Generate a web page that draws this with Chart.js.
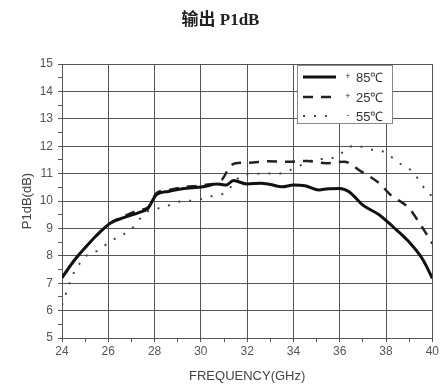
<!DOCTYPE html>
<html>
<head>
<meta charset="utf-8">
<script src="https://cdn.jsdelivr.net/npm/chart.js@4"></script>
<style>
  html, body { margin: 0; padding: 0; background: #fff; }
  #wrap { width: 441px; height: 387px; }
</style>
</head>
<body>
<div id="wrap"><canvas id="myChart" width="441" height="387"></canvas></div>
<script>
// data
const freq85 = [24, 24.5, 24.9, 25.5, 26.1, 26.7, 27.4, 27.7, 28.1, 28.6, 29.2, 30.1, 30.7, 31.1, 31.4, 32.0, 32.6, 33.0, 33.5, 34.0, 34.5, 35.1, 35.5, 36.0, 36.4, 37.0, 37.7, 38.3, 39.0, 39.6, 40.0]
const p85 = [7.2, 7.8, 8.2, 8.75, 9.2, 9.4, 9.6, 9.72, 10.25, 10.35, 10.45, 10.52, 10.62, 10.58, 10.75, 10.62, 10.65, 10.6, 10.52, 10.58, 10.56, 10.4, 10.45, 10.46, 10.34, 9.85, 9.5, 9.06, 8.5, 7.85, 7.18]

const freq25 = [24, 24.5, 24.9, 25.5, 26.1, 26.7, 27.4, 27.7, 28.1, 28.6, 29.2, 30.1, 30.9, 31.25, 31.5, 32.1, 32.9, 33.8, 34.6, 35.4, 36.2, 36.9, 37.7, 38.2, 39.0, 39.5, 40.0]
const p25 = [7.2, 7.8, 8.2, 8.75, 9.2, 9.45, 9.68, 9.75, 10.3, 10.4, 10.5, 10.58, 10.77, 11.25, 11.38, 11.4, 11.45, 11.43, 11.46, 11.38, 11.43, 11.09, 10.65, 10.22, 9.73, 9.12, 8.45]

const freqM55 = [24, 24.2, 24.35, 24.55, 24.85, 25.2, 25.6, 26.0, 26.45, 26.85, 27.2, 27.5, 27.95, 28.45, 28.9, 29.4, 29.9, 30.35, 30.85, 31.2, 31.8, 32.3, 32.8, 33.3, 33.67, 34.3, 34.9, 35.9, 36.2, 36.7, 37.16, 37.67, 38.05, 38.45, 38.92, 39.26, 39.55, 39.87, 40.0]
const pM55 = [6.2, 6.7, 7.05, 7.45, 7.8, 8.1, 8.2, 8.48, 8.7, 8.88, 9.16, 9.5, 9.7, 9.77, 9.95, 10.0, 10.04, 10.16, 10.22, 10.43, 10.95, 10.99, 11.01, 10.99, 11.07, 11.3, 11.5, 11.62, 11.84, 12.04, 11.9, 11.84, 11.75, 11.43, 11.23, 10.95, 10.58, 10.28, 10.15]

const seriesLabels = ['+85℃', '+25℃', '-55℃']

const pts = (xs, ys) => xs.map((x, i) => ({ x: x, y: ys[i] }))

const gridCol = '#555'
const textCol = '#555'

// legend box drawn inside the plot, top right
const boxLegend = {
  id: 'boxLegend',
  afterDatasetsDraw(chart) {
    const c = chart.ctx
    const x0 = 297, y0 = 65, w = 95, h = 58
    c.save()
    c.fillStyle = '#fff'
    c.fillRect(x0, y0, w, h)
    c.strokeStyle = '#888'
    c.lineWidth = 1
    c.strokeRect(x0 + 0.5, y0 + 0.5, w, h)
    const rows = [77, 97, 116]
    chart.data.datasets.forEach((ds, i) => {
      const y = rows[i]
      c.strokeStyle = ds.borderColor
      c.lineWidth = ds.borderWidth
      c.setLineDash(ds.borderDash || [])
      c.beginPath()
      c.moveTo(303, y)
      c.lineTo(336, y)
      c.stroke()
      c.setLineDash([])
      c.fillStyle = '#333'
      c.textBaseline = 'middle'
      c.textAlign = 'center'
      c.font = '9px "Liberation Sans"'
      c.fillText(ds.label.charAt(0), 348, y)
      c.textAlign = 'left'
      c.font = '13px "Liberation Sans"'
      c.fillText(ds.label.slice(1), 356, y + 1)
    })
    c.restore()
  }
}

const ctx = document.getElementById('myChart').getContext('2d')
const myChart = new Chart(ctx, {
  type: 'line',
  data: {
    datasets: [{
      label: seriesLabels[0],
      data: pts(freq85, p85),
      borderColor: '#111',
      borderWidth: 3,
      cubicInterpolationMode: 'monotone',
      pointRadius: 0
    }, {
      label: seriesLabels[1],
      data: pts(freq25, p25),
      borderColor: '#222',
      borderWidth: 2.5,
      borderDash: [10, 8],
      cubicInterpolationMode: 'monotone',
      pointRadius: 0
    }, {
      label: seriesLabels[2],
      data: pts(freqM55, pM55),
      borderColor: '#444',
      borderWidth: 2,
      borderDash: [2, 9],
      cubicInterpolationMode: 'monotone',
      pointRadius: 0
    }]
  },
  options: {
    responsive: false,
    animation: false,
    layout: {
      padding: { left: 0, right: 0, top: 0, bottom: 0 }
    },
    plugins: {
      legend: { display: false },
      tooltip: { enabled: false },
      title: {
        display: true,
        text: '输出 P1dB',
        color: '#222',
        font: { family: '"Liberation Serif", "Noto Sans CJK SC"', size: 17, weight: 'bold' },
        padding: { top: 10, bottom: 33.6 }
      }
    },
    scales: {
      x: {
        type: 'linear',
        min: 24,
        max: 40,
        afterFit(scale) { scale.height = 49 },
        ticks: {
          stepSize: 1,
          autoSkip: false,
          maxRotation: 0,
          color: textCol,
          padding: 2,
          font: { family: '"Liberation Sans"', size: 12 },
          callback: v => (v % 2 === 0 ? v : '')
        },
        grid: {
          color: c => (c.tick && c.tick.value % 2 === 0 ? gridCol : 'rgba(0,0,0,0)'),
          tickColor: gridCol,
          tickLength: 4
        },
        border: { display: true, color: gridCol },
        title: {
          display: true,
          text: 'FREQUENCY(GHz)',
          color: '#444',
          font: { family: '"Liberation Sans"', size: 13 },
          padding: { top: 4, bottom: 3 }
        }
      },
      y: {
        min: 5,
        max: 15,
        afterFit(scale) { scale.width = 62 },
        ticks: {
          stepSize: 0.5,
          autoSkip: false,
          color: textCol,
          padding: 5,
          font: { family: '"Liberation Sans"', size: 12 },
          callback: v => (Number.isInteger(v) ? v : '')
        },
        grid: {
          color: c => (c.tick && Number.isInteger(c.tick.value) ? gridCol : 'rgba(0,0,0,0)'),
          tickColor: gridCol,
          tickLength: 4
        },
        border: { display: true, color: gridCol },
        title: {
          display: true,
          text: 'P1dB(dB)',
          color: '#444',
          font: { family: '"Liberation Sans"', size: 13 },
          padding: { top: 20, bottom: 4 }
        }
      }
    }
  },
  plugins: [boxLegend]
})
</script>
</body>
</html>
